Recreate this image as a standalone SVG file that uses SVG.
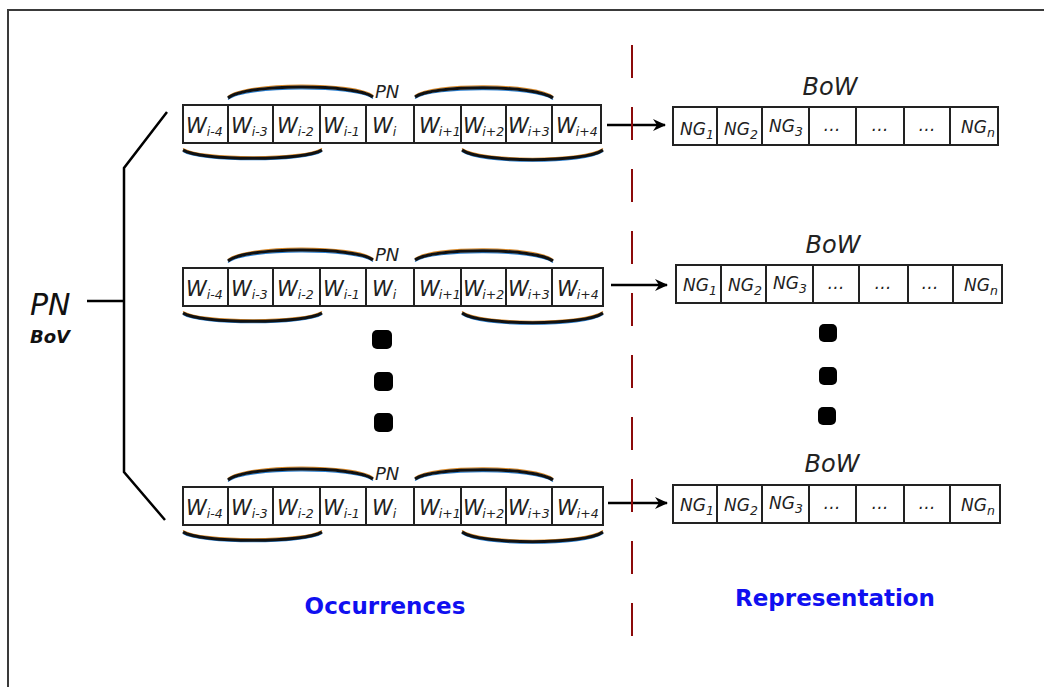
<svg xmlns="http://www.w3.org/2000/svg" width="1044" height="687" viewBox="0 0 1044 687">
<style>
.cell{fill:#fff;stroke:#222;stroke-width:2}
.w{font-family:"DejaVu Sans",sans-serif;font-style:italic;font-size:21px;fill:#222}
.sub{font-size:12.5px}
.ng{font-family:"DejaVu Sans",sans-serif;font-style:italic;font-size:17px;fill:#222}
.nsub{font-size:12.5px}
.bow{font-family:"DejaVu Sans",sans-serif;font-style:italic;font-size:24px;fill:#222}
.pn{font-family:"DejaVu Sans",sans-serif;font-style:italic;font-size:18px;fill:#222}
.brace{fill:none;stroke:#111;stroke-width:3}
.fb{fill:none;stroke:#2a7fd0;stroke-width:1.2}
.fo{fill:none;stroke:#d98a2a;stroke-width:1.2}
.conn{stroke:#000;stroke-width:2.5;fill:none}
.arrow{stroke:#000;stroke-width:2.5;fill:none;marker-end:url(#ah)}
.title{font-family:"DejaVu Sans",sans-serif;font-weight:bold;font-size:23px;fill:#1010f0}
.dot{fill:#000}
</style>
<defs>
<marker id="ah" markerWidth="14" markerHeight="12" refX="12" refY="6" orient="auto" markerUnits="userSpaceOnUse">
<path d="M0,0 L13,6 L0,12 L4,6 z" fill="#000"/>
</marker>
<g id="braces">
<path class="fo" d="M228,96.5 C245,81.5 356,81.5 373,95.5"/>
<path class="fb" d="M228,99.5 C245,85.5 356,85.5 373,98.5"/>
<path class="brace" d="M228,98 C245,83.5 356,83.5 373,97"/>
<path class="fo" d="M415,95.5 C432,82.5 536,82.5 553,96.5"/>
<path class="fb" d="M415,98.5 C432,86.5 536,86.5 553,99.5"/>
<path class="brace" d="M415,97 C432,84.5 536,84.5 553,98"/>
<path class="fo" d="M183,148.5 C200,159.5 305,159.5 322,148.5"/>
<path class="fb" d="M183,151.5 C200,162.5 305,162.5 322,151.5"/>
<path class="brace" d="M183,150 C200,161 305,161 322,150"/>
<path class="fo" d="M462,148.5 C480,161.5 585,161.5 603,148.5"/>
<path class="fb" d="M462,151.5 C480,164.5 585,164.5 603,151.5"/>
<path class="brace" d="M462,150 C480,163 585,163 603,150"/>
</g>
</defs>
<rect x="8" y="10" width="1100" height="720" fill="#fff" stroke="#3a3a3a" stroke-width="2"/>

<g id="pn-bov">
<text x="30" y="315" font-family="DejaVu Sans, sans-serif" font-style="italic" font-size="30" fill="#111">PN</text>
<text x="30" y="343" font-family="DejaVu Sans, sans-serif" font-style="italic" font-weight="bold" font-size="18" fill="#111">BoV</text>
</g>

<g id="connectors">
<path class="conn" d="M87,301 L124,301"/>
<path class="conn" d="M167,112 L124,168 L124,472 L165,520"/>
<path class="arrow" d="M607,125 L665,125"/>
<path class="arrow" d="M611,285 L667,285"/>
<path class="arrow" d="M608,503 L667,503"/>
<path d="M632,45 L632,640" stroke="#8b0a0a" stroke-width="2" stroke-dasharray="33 29" fill="none"/>
</g>

<g id="occ1">
<use href="#braces"/>
<text class="pn" x="375" y="98">PN</text>
<rect class="cell" x="183" y="105" width="45" height="38"/>
<rect class="cell" x="228" y="105" width="45" height="38"/>
<rect class="cell" x="273" y="105" width="47" height="38"/>
<rect class="cell" x="320" y="105" width="46" height="38"/>
<rect class="cell" x="366" y="105" width="48" height="38"/>
<rect class="cell" x="414" y="105" width="47" height="38"/>
<rect class="cell" x="461" y="105" width="45" height="38"/>
<rect class="cell" x="506" y="105" width="46" height="38"/>
<rect class="cell" x="552" y="105" width="49" height="38"/>
<text class="w" x="186" y="133">W<tspan class="sub" dy="3">i-4</tspan></text>
<text class="w" x="231" y="133">W<tspan class="sub" dy="3">i-3</tspan></text>
<text class="w" x="277" y="133">W<tspan class="sub" dy="3">i-2</tspan></text>
<text class="w" x="323" y="133">W<tspan class="sub" dy="3">i-1</tspan></text>
<text class="w" x="372" y="133">W<tspan class="sub" dy="3">i</tspan></text>
<text class="w" x="419" y="133">W<tspan class="sub" dy="3" dx="-1">i+1</tspan></text>
<text class="w" x="463" y="133">W<tspan class="sub" dy="3" dx="-1.5">i+2</tspan></text>
<text class="w" x="508" y="133">W<tspan class="sub" dy="3" dx="-1">i+3</tspan></text>
<text class="w" x="556" y="133">W<tspan class="sub" dy="3" dx="-1">i+4</tspan></text>
</g>

<g id="occ2" transform="translate(0,163)">
<use href="#braces"/>
<text class="pn" x="375" y="98">PN</text>
<rect class="cell" x="183" y="105" width="45" height="38"/>
<rect class="cell" x="228" y="105" width="45" height="38"/>
<rect class="cell" x="273" y="105" width="47" height="38"/>
<rect class="cell" x="320" y="105" width="46" height="38"/>
<rect class="cell" x="366" y="105" width="48" height="38"/>
<rect class="cell" x="414" y="105" width="47" height="38"/>
<rect class="cell" x="461" y="105" width="45" height="38"/>
<rect class="cell" x="506" y="105" width="46" height="38"/>
<rect class="cell" x="552" y="105" width="51" height="38"/>
<text class="w" x="186" y="133">W<tspan class="sub" dy="3">i-4</tspan></text>
<text class="w" x="231" y="133">W<tspan class="sub" dy="3">i-3</tspan></text>
<text class="w" x="277" y="133">W<tspan class="sub" dy="3">i-2</tspan></text>
<text class="w" x="323" y="133">W<tspan class="sub" dy="3">i-1</tspan></text>
<text class="w" x="372" y="133">W<tspan class="sub" dy="3">i</tspan></text>
<text class="w" x="419" y="133">W<tspan class="sub" dy="3" dx="-1">i+1</tspan></text>
<text class="w" x="463" y="133">W<tspan class="sub" dy="3" dx="-1.5">i+2</tspan></text>
<text class="w" x="508" y="133">W<tspan class="sub" dy="3" dx="-1">i+3</tspan></text>
<text class="w" x="557" y="133">W<tspan class="sub" dy="3" dx="-1">i+4</tspan></text>
</g>

<g id="occ3" transform="translate(0,382)">
<use href="#braces"/>
<text class="pn" x="375" y="98">PN</text>
<rect class="cell" x="183" y="105" width="45" height="38"/>
<rect class="cell" x="228" y="105" width="45" height="38"/>
<rect class="cell" x="273" y="105" width="47" height="38"/>
<rect class="cell" x="320" y="105" width="46" height="38"/>
<rect class="cell" x="366" y="105" width="48" height="38"/>
<rect class="cell" x="414" y="105" width="47" height="38"/>
<rect class="cell" x="461" y="105" width="45" height="38"/>
<rect class="cell" x="506" y="105" width="46" height="38"/>
<rect class="cell" x="552" y="105" width="51" height="38"/>
<text class="w" x="186" y="133">W<tspan class="sub" dy="3">i-4</tspan></text>
<text class="w" x="231" y="133">W<tspan class="sub" dy="3">i-3</tspan></text>
<text class="w" x="277" y="133">W<tspan class="sub" dy="3">i-2</tspan></text>
<text class="w" x="323" y="133">W<tspan class="sub" dy="3">i-1</tspan></text>
<text class="w" x="372" y="133">W<tspan class="sub" dy="3">i</tspan></text>
<text class="w" x="419" y="133">W<tspan class="sub" dy="3" dx="-1">i+1</tspan></text>
<text class="w" x="463" y="133">W<tspan class="sub" dy="3" dx="-1.5">i+2</tspan></text>
<text class="w" x="508" y="133">W<tspan class="sub" dy="3" dx="-1">i+3</tspan></text>
<text class="w" x="557" y="133">W<tspan class="sub" dy="3" dx="-1">i+4</tspan></text>
</g>

<g id="bow1">
<text class="bow" x="830" y="95" text-anchor="middle">BoW</text>
<rect class="cell" x="673" y="107" width="44" height="38"/>
<rect class="cell" x="717" y="107" width="45" height="38"/>
<rect class="cell" x="762" y="107" width="47" height="38"/>
<rect class="cell" x="809" y="107" width="47" height="38"/>
<rect class="cell" x="856" y="107" width="48" height="38"/>
<rect class="cell" x="904" y="107" width="46" height="38"/>
<rect class="cell" x="950" y="107" width="48" height="38"/>
<text class="ng" x="680" y="135">NG<tspan class="nsub" dy="4">1</tspan></text>
<text class="ng" x="724" y="135">NG<tspan class="nsub" dy="4">2</tspan></text>
<text class="ng" x="769" y="132">NG<tspan class="nsub" dy="4">3</tspan></text>
<text class="ng" x="832" y="131" text-anchor="middle">…</text>
<text class="ng" x="880" y="131" text-anchor="middle">…</text>
<text class="ng" x="927" y="131" text-anchor="middle">…</text>
<text class="ng" x="961" y="133">NG<tspan class="nsub" dy="4">n</tspan></text>
</g>

<g id="bow2" transform="translate(3,158)">
<text class="bow" x="830" y="95" text-anchor="middle">BoW</text>
<rect class="cell" x="673" y="107" width="45" height="38"/>
<rect class="cell" x="718" y="107" width="45" height="38"/>
<rect class="cell" x="763" y="107" width="47" height="38"/>
<rect class="cell" x="810" y="107" width="46" height="38"/>
<rect class="cell" x="856" y="107" width="49" height="38"/>
<rect class="cell" x="905" y="107" width="45" height="38"/>
<rect class="cell" x="950" y="107" width="49" height="38"/>
<text class="ng" x="680" y="133">NG<tspan class="nsub" dy="4">1</tspan></text>
<text class="ng" x="725" y="133">NG<tspan class="nsub" dy="4">2</tspan></text>
<text class="ng" x="770" y="131">NG<tspan class="nsub" dy="4">3</tspan></text>
<text class="ng" x="833" y="131" text-anchor="middle">…</text>
<text class="ng" x="880" y="131" text-anchor="middle">…</text>
<text class="ng" x="927" y="131" text-anchor="middle">…</text>
<text class="ng" x="961" y="133">NG<tspan class="nsub" dy="4">n</tspan></text>
</g>

<g id="bow3" transform="translate(0,378)">
<text class="bow" x="832" y="94" text-anchor="middle">BoW</text>
<rect class="cell" x="673" y="107" width="44" height="38"/>
<rect class="cell" x="717" y="107" width="45" height="38"/>
<rect class="cell" x="762" y="107" width="47" height="38"/>
<rect class="cell" x="809" y="107" width="47" height="38"/>
<rect class="cell" x="856" y="107" width="48" height="38"/>
<rect class="cell" x="904" y="107" width="46" height="38"/>
<rect class="cell" x="950" y="107" width="50" height="38"/>
<text class="ng" x="680" y="133">NG<tspan class="nsub" dy="4">1</tspan></text>
<text class="ng" x="724" y="133">NG<tspan class="nsub" dy="4">2</tspan></text>
<text class="ng" x="769" y="131">NG<tspan class="nsub" dy="4">3</tspan></text>
<text class="ng" x="832" y="131" text-anchor="middle">…</text>
<text class="ng" x="880" y="131" text-anchor="middle">…</text>
<text class="ng" x="927" y="131" text-anchor="middle">…</text>
<text class="ng" x="961" y="133">NG<tspan class="nsub" dy="4">n</tspan></text>
</g>

<g id="dots-left">
<rect class="dot" x="372" y="330" width="20" height="19" rx="5"/>
<rect class="dot" x="374" y="372" width="19" height="19" rx="5"/>
<rect class="dot" x="374" y="413" width="19" height="19" rx="5"/>
</g>
<g id="dots-right">
<rect class="dot" x="819" y="324" width="18" height="18" rx="5"/>
<rect class="dot" x="819" y="367" width="18" height="18" rx="5"/>
<rect class="dot" x="818" y="407" width="18" height="18" rx="5"/>
</g>

<g id="labels">
<text class="title" x="385" y="614" text-anchor="middle">Occurrences</text>
<text class="title" x="835" y="606" text-anchor="middle">Representation</text>
</g>
</svg>
